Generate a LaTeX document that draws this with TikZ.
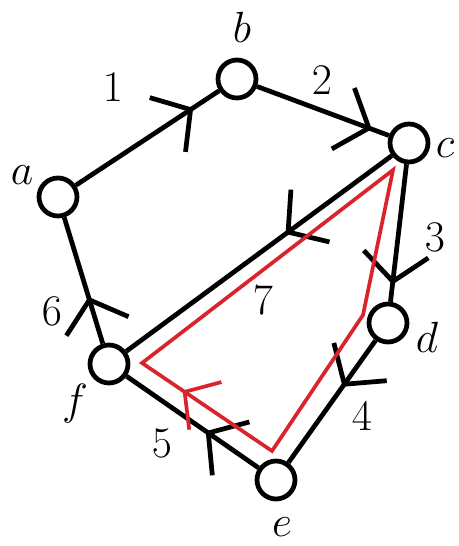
\documentclass[tikz,border=0pt]{standalone}
\usepackage{tikz}
\usetikzlibrary{arrows.meta,decorations.markings}
\definecolor{CycleRed}{RGB}{218,36,44}
\tikzset{
  vertex/.style={circle,draw,line width=2.7pt,minimum size=0.76cm,inner sep=0pt},
  edge/.style={line width=2.7pt},
  cycle path/.style={draw=CycleRed,line width=2.1pt},
  tag/.style={font=\fontsize{25}{29}\selectfont},
  barb/.tip={Straight Barb[length=0.55cm,width=1.3cm,sharp]},
  redbarb/.tip={Straight Barb[length=0.5cm,width=1.15cm,sharp]},
  mid arrow/.style 2 args={postaction={decorate},decoration={markings,
    mark=at position #1 with {\arrow{#2}}}},
}
\begin{document}
\begin{tikzpicture}[x=0.02cm,y=-0.02cm]
\useasboundingbox (0,0) rectangle (458,546);
% vertices
\node[vertex] (a) at (58,197) {};
\node[vertex] (b) at (237,79) {};
\node[vertex] (c) at (409,143) {};
\node[vertex] (d) at (388,323) {};
\node[vertex] (e) at (276,480) {};
\node[vertex] (f) at (109,364) {};
% vertex names
\node[tag] (la) at (22,175) {$a$};
\node[tag] (lb) at (242,27) {$b$};
\node[tag] (lc) at (445,148) {$c$};
\node[tag] (ld) at (427,337) {$d$};
\node[tag] (le) at (282,527) {$e$};
\node[tag] (lf) at (75,404) {$f$};
% edges
\draw[edge,mid arrow={0.82}{barb}] (a) -- (b);
\draw[edge,mid arrow={0.87}{barb}] (b) -- (c);
\draw[edge,mid arrow={0.875}{barb}] (c) -- (d);
\draw[edge,mid arrow={0.38}{barb}] (d) -- (e);
\draw[edge,mid arrow={0.40}{barb}] (e) -- (f);
\draw[edge,mid arrow={0.37}{barb}] (f) -- (a);
\draw[edge,mid arrow={0.40}{barb}] (c) -- (f);
% edge numbers
\node[tag] (n1) at (113,87) {$1$};
\node[tag] (n2) at (322,80) {$2$};
\node[tag] (n3) at (435,237) {$3$};
\node[tag] (n4) at (362,416) {$4$};
\node[tag] (n5) at (162,443) {$5$};
\node[tag] (n6) at (52,311) {$6$};
\node[tag] (n7) at (263,300) {$7$};
% red cycle
\coordinate (r1) at (393,170);
\coordinate (r2) at (363,315);
\coordinate (r3) at (272,451);
\coordinate (r4) at (142,363);
\path[cycle path,mid arrow={0.1375}{redbarb}] (r3) -- (r4) -- (r1) -- (r2) -- cycle;
\end{tikzpicture}
\end{document}
